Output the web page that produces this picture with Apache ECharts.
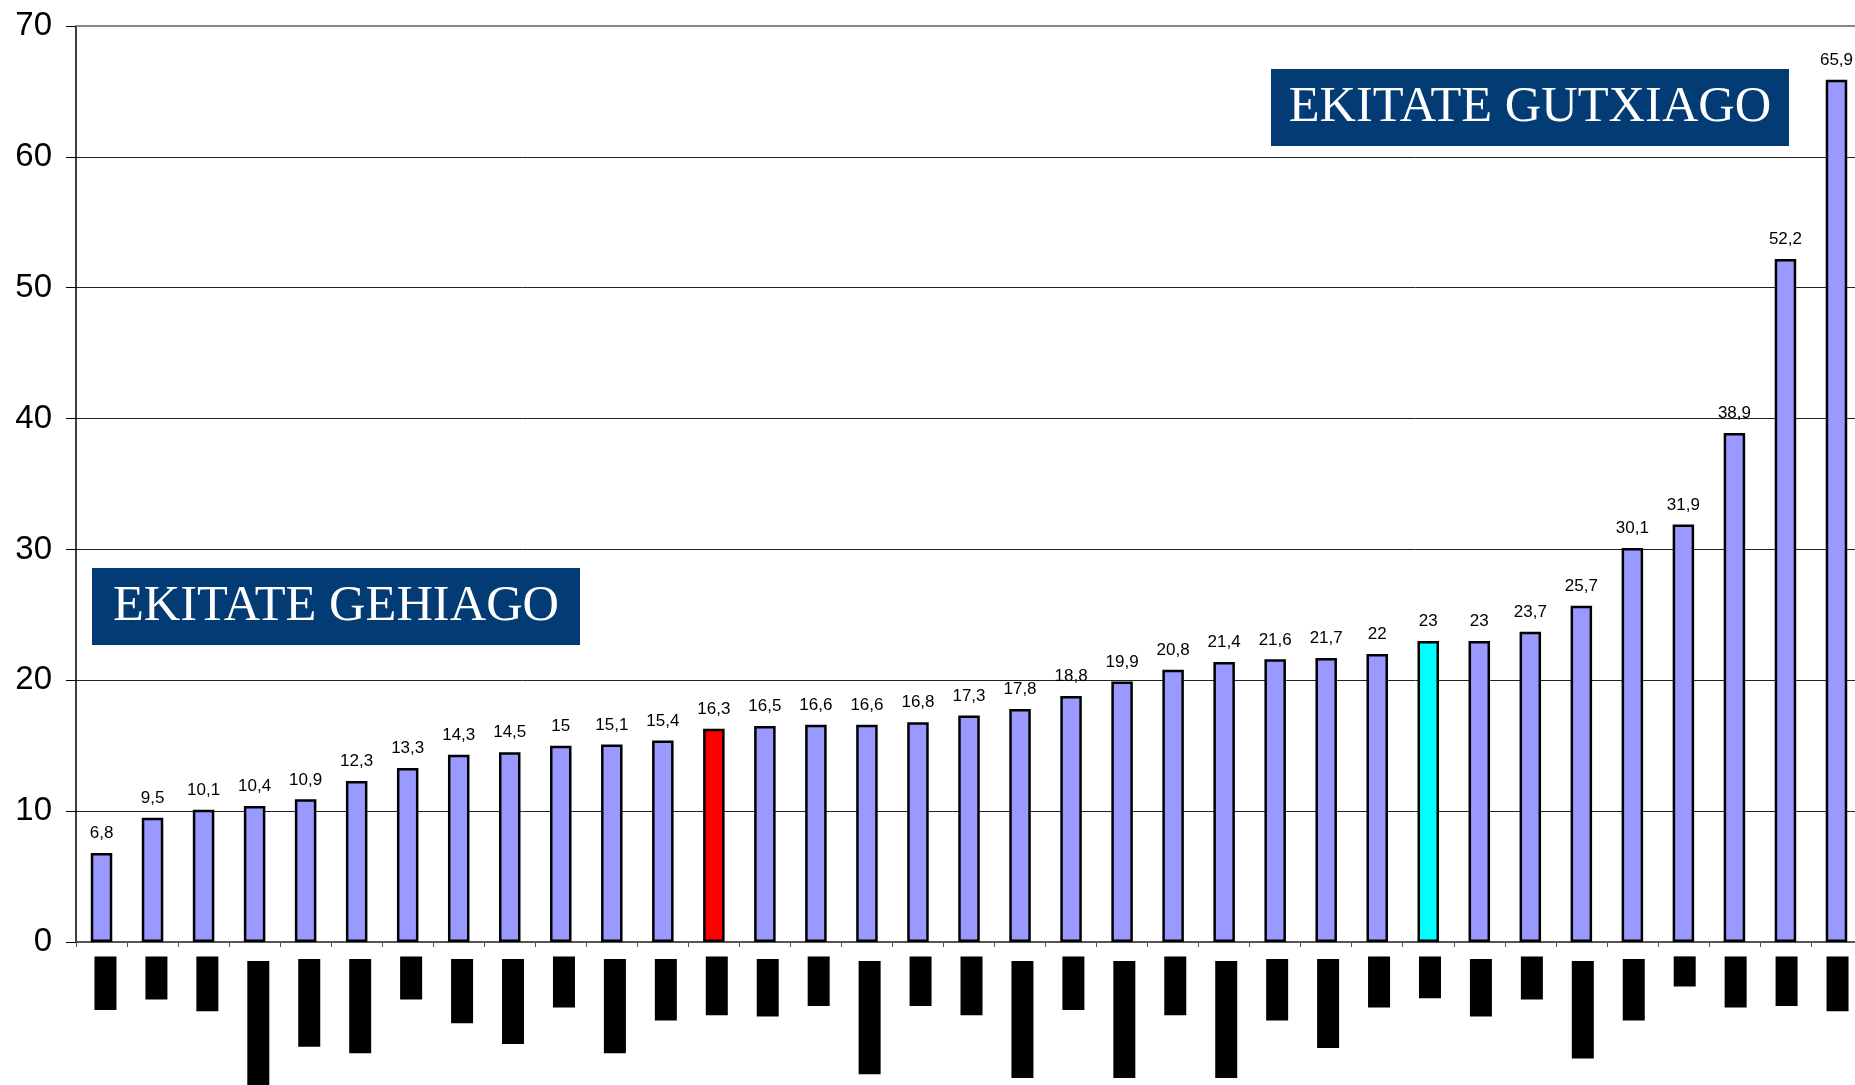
<!DOCTYPE html>
<html>
<head>
<meta charset="utf-8">
<script src="https://cdn.jsdelivr.net/npm/echarts@6/dist/echarts.min.js"></script>
<style>
html,body{margin:0;padding:0;background:#fff;overflow:hidden;width:1855px;height:1085px;}
#chart{width:1880px;height:1085px;}
</style>
</head>
<body>
<div id="chart"></div>
<script>
// ---- data ----
const categories = ['1','2','3','4','5','6','7','8','9','10','11','12','13','14','15','16','17','18','19','20','21','22','23','24','25','26','27','28','29','30','31','32','33','34','35'];
const values = [6.8, 9.5, 10.1, 10.4, 10.9, 12.3, 13.3, 14.3, 14.5, 15, 15.1, 15.4, 16.3, 16.5, 16.6, 16.6, 16.8, 17.3, 17.8, 18.8, 19.9, 20.8, 21.4, 21.6, 21.7, 22, 23, 23, 23.7, 25.7, 30.1, 31.9, 38.9, 52.2, 65.9];
const redIndex = 12;
const cyanIndex = 26;
// black bars below the axis: start (top) and end (bottom) values
const blackTop = [-1.1,-1.1,-1.1,-1.45,-1.3,-1.3,-1.1,-1.3,-1.3,-1.1,-1.3,-1.3,-1.1,-1.3,-1.1,-1.45,-1.1,-1.1,-1.45,-1.1,-1.45,-1.1,-1.45,-1.3,-1.3,-1.1,-1.1,-1.3,-1.1,-1.45,-1.3,-1.1,-1.1,-1.1,-1.1];
const blackBottom = [-5.2,-4.4,-5.3,-11.3,-8.0,-8.5,-4.4,-6.2,-7.8,-5.0,-8.5,-6.0,-5.6,-5.7,-4.9,-10.1,-4.9,-5.6,-10.4,-5.2,-10.4,-5.6,-10.4,-6.0,-8.1,-5.0,-4.3,-5.7,-4.4,-8.9,-6.0,-3.4,-5.0,-4.9,-5.3];
const yTicks = [0, 70, 10]; // min, max, interval
const boxTexts = ['EKITATE GEHIAGO', 'EKITATE GUTXIAGO'];

// ---- layout ----
const plotTop = 26, plotH = 916, lowerH = 143;
const lowerMin = -(lowerH / (plotH / (yTicks[1] - yTicks[0])));

const purpleData = values.map((v, i) => {
  let c = '#9999ff';
  if (i === redIndex) c = '#ff0000';
  if (i === cyanIndex) c = '#00ffff';
  return { value: v, itemStyle: { color: c } };
});
const blackLen = blackBottom.map((b, i) => +(b - blackTop[i]).toFixed(2));

const chart = echarts.init(document.getElementById('chart'), null, { renderer: 'canvas' });
chart.setOption({
  animation: false,
  backgroundColor: '#fff',
  grid: [
    { left: 76, top: plotTop, width: 1786, height: plotH },
    { left: 80, top: plotTop + plotH, width: 1783, height: lowerH }
  ],
  xAxis: [
    { type: 'category', data: categories, gridIndex: 0, position: 'bottom',
      axisLine: { lineStyle: { color: '#555', width: 2 } },
      axisTick: { show: true, interval: 0, length: 5, lineStyle: { color: '#555', width: 1 } },
      axisLabel: { show: false }, splitLine: { show: false } },
    { type: 'category', data: categories, gridIndex: 0, position: 'top',
      axisLine: { lineStyle: { color: '#888', width: 2 } },
      axisTick: { show: false }, axisLabel: { show: false } },
    { type: 'category', data: categories, gridIndex: 1, show: false }
  ],
  yAxis: [
    { type: 'value', gridIndex: 0, min: yTicks[0], max: yTicks[1], interval: yTicks[2],
      axisLine: { show: true, lineStyle: { color: '#000', width: 1.5 } },
      axisTick: { show: true, length: 10, lineStyle: { color: '#000', width: 1 } },
      axisLabel: { fontSize: 33, color: '#000', fontFamily: '"Liberation Sans", Arial, sans-serif', margin: 24 },
      splitLine: { show: true, lineStyle: { color: ['#555','#222','#222','#222','#222','#222','#222','#888'], width: 1 } } },
    { type: 'value', gridIndex: 1, min: lowerMin, max: 0, show: false, splitLine: { show: false } }
  ],
  series: [
    { type: 'bar', xAxisIndex: 0, yAxisIndex: 0, data: purpleData, barWidth: 21.5,
      itemStyle: { borderColor: '#000', borderWidth: 2.5 },
      label: { show: true, position: 'top', distance: 11, fontSize: 17, color: '#000',
               fontFamily: '"Liberation Sans", Arial, sans-serif',
               formatter: p => String(p.value).replace('.', ',') } },
    { type: 'bar', xAxisIndex: 2, yAxisIndex: 1, stack: 'low', data: blackTop, barWidth: 22,
      itemStyle: { color: 'rgba(0,0,0,0)' }, silent: true },
    { type: 'bar', xAxisIndex: 2, yAxisIndex: 1, stack: 'low', data: blackLen, barWidth: 22,
      itemStyle: { color: '#000' } }
  ],
  graphic: [
    { type: 'rect', shape: { x: 92, y: 568, width: 488, height: 77 }, style: { fill: '#033b74' }, z: 100 },
    { type: 'text', x: 336, y: 607, z: 101,
      style: { text: boxTexts[0], fill: '#fff', font: '50.5px "Liberation Serif", "Times New Roman", serif',
               textAlign: 'center', textVerticalAlign: 'middle', align: 'center', verticalAlign: 'middle' } },
    { type: 'rect', shape: { x: 1271, y: 69, width: 518, height: 77 }, style: { fill: '#033b74' }, z: 100 },
    { type: 'text', x: 1530, y: 108, z: 101,
      style: { text: boxTexts[1], fill: '#fff', font: '50.5px "Liberation Serif", "Times New Roman", serif',
               textAlign: 'center', textVerticalAlign: 'middle', align: 'center', verticalAlign: 'middle' } }
  ]
});
</script>
</body>
</html>
